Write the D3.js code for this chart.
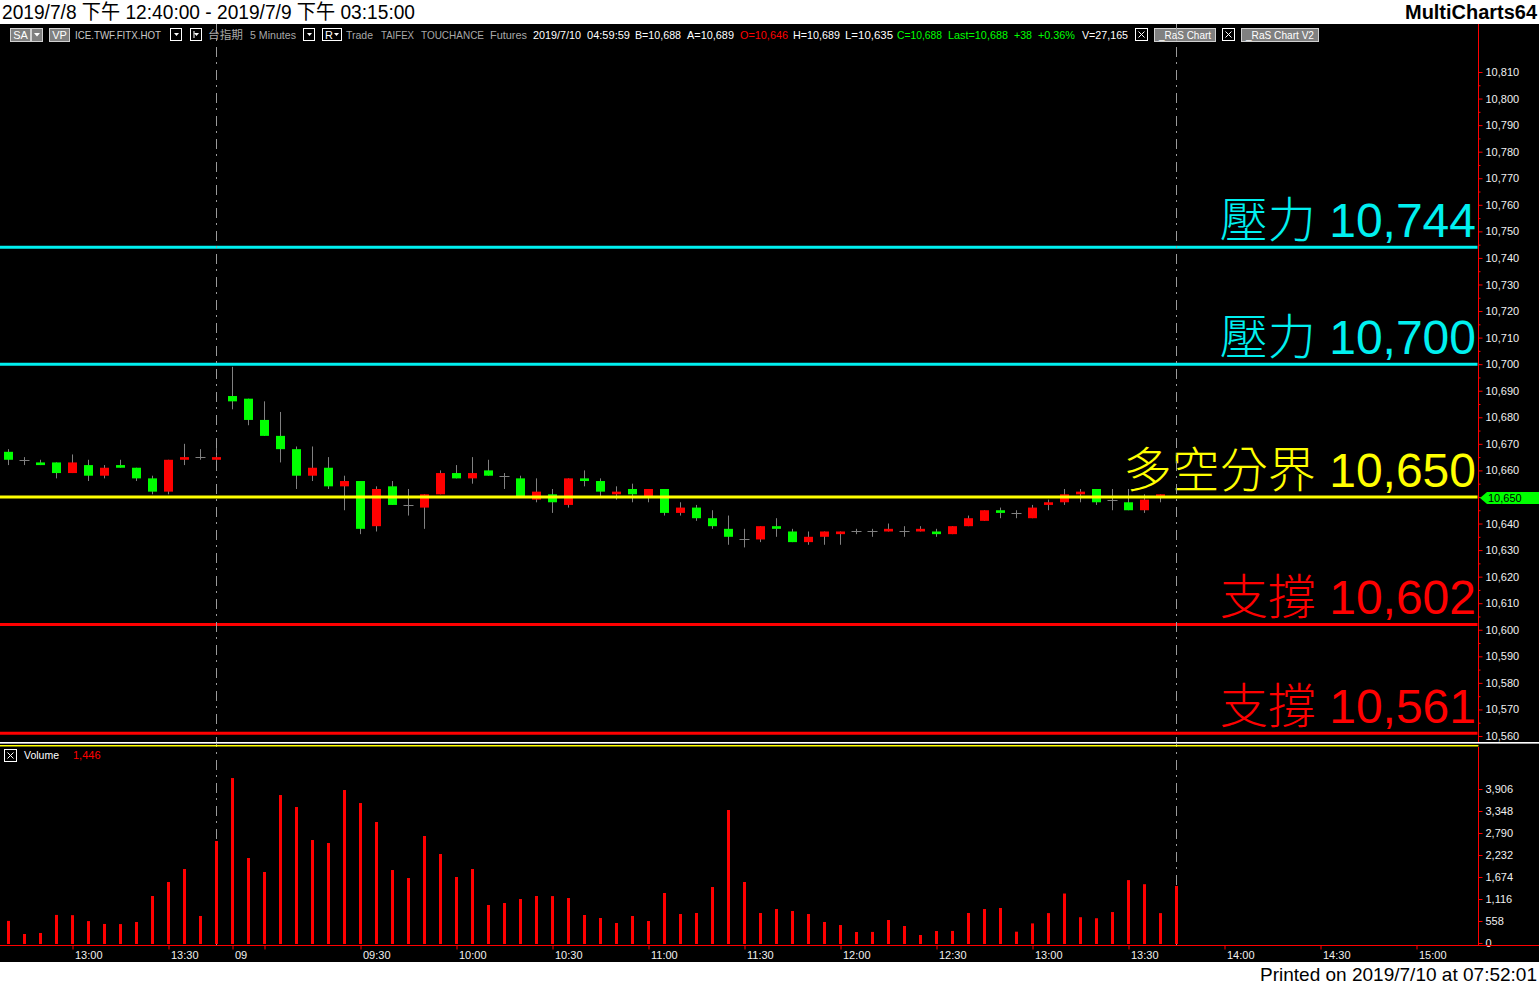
<!DOCTYPE html>
<html>
<head>
<meta charset="utf-8">
<script src="https://cdn.jsdelivr.net/npm/d3@7"></script>
<style>
  body { margin: 0; background: #fff; }
  svg { display: block; }
  text { font-family: "Liberation Sans", Arial, "Noto Sans CJK TC", sans-serif; }
</style>
</head>
<body>
<svg id="chart" width="1539" height="985"></svg>
<script>
// ---- sessions (5-minute slots, bar time = close time) ----
const sessionDates  = ["2019/7/8", "2019/7/9"];
const sessionStarts = ["12:40", "08:50"];
const sessionEnds   = ["13:45", "15:15"];

// ---- OHLC + volume of the 74 bars ----
const barOpen  = [10667,10664,10663,10663,10659,10662,10658,10662,10661,10657,10652,10664,10665,10664,
                  10688,10687,10679,10673,10668,10658,10661,10654,10656,10639,10654,10647,10646,10651,10659,10657,
                  10660,10658,10657,10649,10651,10647,10657,10656,10651,10653,10650,10653,10644,10646,10642,10638,
                  10634,10634,10639,10637,10633,10635,10636,10637,10637,10637,10637,10637,10637,10636,10639,10641,
                  10645,10644,10642,10647,10648,10651,10653,10649,10648,10645,10650,10650];
const barHigh  = [10668,10665,10664,10663,10666,10664,10662,10664,10661,10658,10664,10670,10668,10669,
                  10699,10687,10686,10682,10669,10669,10665,10658,10656,10654,10656,10653,10651,10660,10662,10665,
                  10664,10659,10658,10657,10653,10657,10660,10657,10654,10655,10653,10653,10648,10647,10645,10643,
                  10638,10639,10642,10638,10637,10637,10637,10638,10638,10640,10639,10639,10638,10639,10643,10645,
                  10646,10645,10647,10649,10653,10653,10653,10653,10653,10651,10651,10650];
const barLow   = [10662,10662,10662,10657,10659,10656,10657,10661,10656,10651,10651,10662,10664,10662,
                  10683,10677,10673,10663,10653,10656,10653,10645,10636,10637,10647,10643,10638,10651,10657,10655,
                  10658,10653,10650,10648,10644,10646,10654,10650,10649,10648,10648,10643,10643,10641,10638,10632,
                  10631,10633,10635,10633,10632,10632,10632,10636,10635,10637,10635,10637,10635,10636,10639,10641,
                  10642,10642,10642,10645,10647,10648,10647,10645,10645,10644,10648,10650];
const barClose = [10664,10664,10662,10659,10663,10658,10661,10661,10657,10652,10664,10665,10665,10665,
                  10686,10679,10673,10668,10658,10661,10654,10656,10638,10653,10647,10647,10651,10659,10657,10659,
                  10658,10658,10650,10652,10648,10657,10656,10652,10652,10651,10653,10644,10646,10642,10639,10635,
                  10634,10639,10638,10633,10635,10637,10637,10637,10637,10638,10637,10638,10636,10639,10642,10645,
                  10644,10644,10646,10648,10651,10652,10648,10649,10645,10649,10651,10650];
const barVolume = [561,228,254,712,706,556,483,480,533,1192,1547,1877,685,2587,
                   4184,2156,1801,3753,3449,2612,2536,3880,3550,3069,1851,1648,2714,2257,1674,1877,
                   964,1014,1116,1192,1190,1141,710,634,507,685,558,1268,735,761,
                   1420,3373,1547,761,862,811,735,533,456,279,281,583,431,203,
                   304,306,761,862,888,287,497,758,1255,654,628,785,1595,1491,758,1446];

// ---- support / resistance levels ----
const levelNames  = ["壓力", "壓力", "多空分界", "支撐", "支撐"];
const levelValues = [10744, 10700, 10650, 10602, 10561];

// ---- axis ticks ----
const priceTicks  = d3.range(10560, 10811, 10);
const volumeTicks = [0, 558, 1116, 1674, 2232, 2790, 3348, 3906];
const timeTickKeys = ["2019/7/8 13:00","2019/7/8 13:30","2019/7/9 08:50","2019/7/9 09:00","2019/7/9 09:30",
                      "2019/7/9 10:00","2019/7/9 10:30","2019/7/9 11:00","2019/7/9 11:30","2019/7/9 12:00",
                      "2019/7/9 12:30","2019/7/9 13:00","2019/7/9 13:30","2019/7/9 14:00","2019/7/9 14:30",
                      "2019/7/9 15:00"];
const timeTickLabels = ["13:00","13:30","09","","09:30","10:00","10:30","11:00","11:30","12:00","12:30",
                        "13:00","13:30","14:00","14:30","15:00"];

// build the slot list of both sessions
function toMin(t) { const [h, m] = t.split(":").map(Number); return h * 60 + m; }
function toHHMM(m) { return String(Math.floor(m / 60)).padStart(2, "0") + ":" + String(m % 60).padStart(2, "0"); }
const slots = [];
sessionDates.forEach((d, s) => {
  for (let m = toMin(sessionStarts[s]); m <= toMin(sessionEnds[s]); m += 5) slots.push(d + " " + toHHMM(m));
});
const bars = barOpen.map((o, i) => ({ i, o, h: barHigh[i], l: barLow[i], c: barClose[i], v: barVolume[i] }));

const W = 1539, H = 985;
const axisX = 1478.5;
const svg = d3.select("#chart");
const fmt = d3.format(",");

// scales
const x = d3.scaleLinear().domain([0, slots.length - 1]).range([8, 8 + 16 * (slots.length - 1)]);
const y = d3.scaleLinear().domain([10560, 10810]).range([736, 72]);
const yv = d3.scaleLinear().domain([0, 3906]).range([943, 789]);

// backgrounds
svg.append("rect").attr("width", W).attr("height", H).attr("fill", "#ffffff");
svg.append("rect").attr("x", 0).attr("y", 24).attr("width", W).attr("height", 938).attr("fill", "#000000");

// title row
svg.append("text").attr("x", 2).attr("y", 19).attr("font-size", 20).attr("fill", "#000")
  .attr("textLength", 413).attr("lengthAdjust", "spacingAndGlyphs")
  .text("2019/7/8 下午 12:40:00 - 2019/7/9 下午 03:15:00");
svg.append("text").attr("x", 1537).attr("y", 19).attr("font-size", 20).attr("font-weight", "bold")
  .attr("text-anchor", "end").attr("fill", "#000")
  .attr("textLength", 132).attr("lengthAdjust", "spacingAndGlyphs").text("MultiCharts64");

// toolbar
const tb = svg.append("g").attr("font-size", 11);
function tbText(xp, w, s, color) {
  tb.append("text").attr("x", xp).attr("y", 39).attr("fill", color)
    .attr("textLength", w).attr("lengthAdjust", "spacingAndGlyphs").text(s);
}
function grayBox(xp, w, s) {
  tb.append("rect").attr("x", xp + 0.5).attr("y", 28.5).attr("width", w).attr("height", 13)
    .attr("fill", "#808080").attr("stroke", "#d0d0d0");
  tb.append("text").attr("x", xp + w / 2 + 0.5).attr("y", 39).attr("text-anchor", "middle").attr("fill", "#fff").text(s);
}
function dropBox(xp, w, s) {
  tb.append("rect").attr("x", xp + 0.5).attr("y", 28.5).attr("width", w).attr("height", 12)
    .attr("fill", "#000").attr("stroke", "#ffffff");
  tb.append("path").attr("d", `M${xp + w - 7},33 h5 l-2.5,3 z`).attr("fill", "#fff");
  if (s) tb.append("text").attr("x", xp + 3).attr("y", 39).attr("fill", "#fff").text(s);
}
function xBox(xp) {
  tb.append("rect").attr("x", xp + 0.5).attr("y", 28.5).attr("width", 12).attr("height", 12)
    .attr("fill", "#000").attr("stroke", "#fff");
  tb.append("path").attr("d", `M${xp + 3.5},31.5 l6,6 M${xp + 9.5},31.5 l-6,6`).attr("stroke", "#fff");
}
grayBox(10, 20, "SA");
tb.append("rect").attr("x", 31.5).attr("y", 28.5).attr("width", 11).attr("height", 13).attr("fill", "#808080").attr("stroke", "#d0d0d0");
tb.append("path").attr("d", "M34,33 h6 l-3,3.5 z").attr("fill", "#fff");
grayBox(49, 20, "VP");
tbText(75, 86, "ICE.TWF.FITX.HOT", "#c8c8c8");
dropBox(170, 11);
dropBox(190, 11);
tb.append("line").attr("x1", 194).attr("x2", 194).attr("y1", 31).attr("y2", 38).attr("stroke", "#fff");
tbText(208, 35, "台指期", "#a8a8a8");
tbText(250, 46, "5 Minutes", "#a8a8a8");
dropBox(303, 11);
dropBox(322, 19, "R");
tbText(346, 27, "Trade", "#a8a8a8");
tbText(381, 33, "TAIFEX", "#a8a8a8");
tbText(421, 63, "TOUCHANCE", "#a8a8a8");
tbText(490, 37, "Futures", "#a8a8a8");
tbText(533, 48, "2019/7/10", "#ffffff");
tbText(587, 43, "04:59:59", "#ffffff");
tbText(635, 46, "B=10,688", "#ffffff");
tbText(687, 47, "A=10,689", "#ffffff");
tbText(740, 48, "O=10,646", "#ff0000");
tbText(793, 47, "H=10,689", "#ffffff");
tbText(845, 48, "L=10,635", "#ffffff");
tbText(897, 45, "C=10,688", "#00ff00");
tbText(948, 60, "Last=10,688", "#00ff00");
tbText(1014, 18, "+38", "#00ff00");
tbText(1038, 37, "+0.36%", "#00ff00");
tbText(1082, 46, "V=27,165", "#ffffff");
xBox(1135);
grayBox(1154, 61, "");
tbText(1159, 52, "_RaS Chart", "#ffffff");
xBox(1222);
grayBox(1241, 77, "");
tbText(1246, 68, "_RaS Chart V2", "#ffffff");

// ---- price pane ----
const pricePane = svg.append("g");

// candles
const candles = pricePane.append("g").selectAll("g").data(bars).join("g");
candles.append("line")
  .attr("x1", d => Math.round(x(d.i)) + 0.5).attr("x2", d => Math.round(x(d.i)) + 0.5)
  .attr("y1", d => y(d.h)).attr("y2", d => y(d.l))
  .attr("stroke", "#808080").attr("stroke-width", 1);
candles.filter(d => d.c !== d.o).append("rect")
  .attr("x", d => Math.round(x(d.i)) - 4).attr("width", 9)
  .attr("y", d => y(Math.max(d.o, d.c)))
  .attr("height", d => Math.max(1, Math.abs(y(d.o) - y(d.c))))
  .attr("fill", d => d.c > d.o ? "#ff0000" : "#00ff00");
candles.filter(d => d.c === d.o).append("line")
  .attr("x1", d => Math.round(x(d.i)) - 4.5).attr("x2", d => Math.round(x(d.i)) + 5.5)
  .attr("y1", d => Math.round(y(d.c)) + 0.5).attr("y2", d => Math.round(y(d.c)) + 0.5)
  .attr("stroke", "#808080").attr("stroke-width", 1);

// session / last-bar markers
const markerIdx = [13, bars.length - 1];
svg.append("g").selectAll("line").data(markerIdx).join("line")
  .attr("x1", d => Math.round(x(d)) + 0.5).attr("x2", d => Math.round(x(d)) + 0.5)
  .attr("y1", 24).attr("y2", 945)
  .attr("stroke", "#9a9a9a").attr("stroke-width", 1).attr("stroke-dasharray", "10,5,2,6");

// level lines and captions
const levelColors = ["#00f0f0", "#00f0f0", "#ffff00", "#ff0000", "#ff0000"];
const lv = pricePane.append("g").selectAll("g").data(levelValues).join("g");
lv.append("line").attr("x1", 0).attr("x2", axisX - 1)
  .attr("y1", d => y(d)).attr("y2", d => y(d))
  .attr("stroke", (d, i) => levelColors[i]).attr("stroke-width", 3);
const cap = lv.append("text").attr("x", 1476).attr("y", d => y(d) - 10)
  .attr("text-anchor", "end").attr("font-size", 48).attr("fill", (d, i) => levelColors[i]);
cap.append("tspan").attr("font-family", "'Noto Sans CJK TC', 'Noto Sans CJK SC', sans-serif")
  .attr("font-weight", 300).text((d, i) => levelNames[i]);
cap.append("tspan").attr("font-family", "'Liberation Sans', Arial, sans-serif").text(d => " " + fmt(d));

// price axis
svg.append("line").attr("x1", axisX).attr("x2", axisX).attr("y1", 24).attr("y2", 742).attr("stroke", "#ff0000");
const pAxis = svg.append("g").attr("transform", `translate(${axisX},0)`)
  .call(d3.axisRight(y).tickValues(priceTicks).tickFormat(fmt).tickSize(4).tickPadding(3).tickSizeOuter(0));
pAxis.select(".domain").remove();
pAxis.selectAll("line").attr("stroke", "#ff0000");
pAxis.selectAll("text").attr("fill", "#f0f0f0").attr("font-size", 11)
  .attr("font-family", "'Liberation Sans', Arial, sans-serif");
const pMinor = svg.append("g").attr("transform", `translate(${axisX},0)`)
  .call(d3.axisRight(y).tickValues(d3.range(10565, 10811, 10)).tickFormat("").tickSize(2).tickSizeOuter(0));
pMinor.select(".domain").remove();
pMinor.selectAll("line").attr("stroke", "#ff0000");

// current price marker
const lastY = y(levelValues[2]);
svg.append("path")
  .attr("d", `M1480,${lastY + 1} L1487,${lastY - 5} L1539,${lastY - 5} L1539,${lastY + 7} L1487,${lastY + 7} Z`)
  .attr("fill", "#00ff00");
svg.append("text").attr("x", 1488).attr("y", lastY + 5.5).attr("font-size", 11).attr("fill", "#000")
  .text(fmt(levelValues[2]));

// pane separator
svg.append("rect").attr("x", 0).attr("y", 742).attr("width", W).attr("height", 1).attr("fill", "#ffffff");
svg.append("rect").attr("x", 0).attr("y", 743).attr("width", W).attr("height", 1).attr("fill", "#a0a0a0");
svg.append("rect").attr("x", 0).attr("y", 745).attr("width", axisX).attr("height", 1.5).attr("fill", "#ffff00");

// ---- volume pane ----
svg.append("g").selectAll("rect").data(bars).join("rect")
  .attr("x", d => Math.round(x(d.i)) - 1).attr("width", 3)
  .attr("y", d => yv(d.v)).attr("height", d => 944 - yv(d.v))
  .attr("fill", "#ff0000");

svg.append("rect").attr("x", 4.5).attr("y", 749.5).attr("width", 12).attr("height", 12)
  .attr("fill", "#000").attr("stroke", "#fff");
svg.append("path").attr("d", "M7.5,752.5 l6,6 M13.5,752.5 l-6,6").attr("stroke", "#fff");
svg.append("text").attr("x", 24).attr("y", 759).attr("font-size", 11).attr("fill", "#fff")
  .attr("textLength", 35).attr("lengthAdjust", "spacingAndGlyphs").text("Volume");
svg.append("text").attr("x", 73).attr("y", 759).attr("font-size", 11).attr("fill", "#ff0000")
  .text(fmt(barVolume[barVolume.length - 1]));

svg.append("line").attr("x1", axisX).attr("x2", axisX).attr("y1", 747).attr("y2", 945).attr("stroke", "#ff0000");
const vAxis = svg.append("g").attr("transform", `translate(${axisX},0)`)
  .call(d3.axisRight(yv).tickValues(volumeTicks).tickFormat(fmt).tickSize(4).tickPadding(3).tickSizeOuter(0));
vAxis.select(".domain").remove();
vAxis.selectAll("line").attr("stroke", "#ff0000");
vAxis.selectAll("text").attr("fill", "#f0f0f0").attr("font-size", 11)
  .attr("font-family", "'Liberation Sans', Arial, sans-serif");

// ---- time axis ----
svg.append("line").attr("x1", 0).attr("x2", W).attr("y1", 945.5).attr("y2", 945.5).attr("stroke", "#ff0000");
const tickIdx = timeTickKeys.map(k => slots.indexOf(k));
const tAxis = svg.append("g").attr("transform", "translate(0.5,945.5)")
  .call(d3.axisBottom(x).tickValues(tickIdx).tickFormat((d, i) => timeTickLabels[i]).tickSize(4).tickPadding(2).tickSizeOuter(0));
tAxis.select(".domain").remove();
tAxis.selectAll("line").attr("stroke", "#ff0000");
tAxis.selectAll("text").attr("fill", "#f0f0f0").attr("font-size", 11)
  .attr("font-family", "'Liberation Sans', Arial, sans-serif")
  .attr("text-anchor", "start").attr("x", 2).attr("dy", "0.71em");

// footer
svg.append("text").attr("x", 1537).attr("y", 981).attr("font-size", 19).attr("fill", "#000")
  .attr("text-anchor", "end").attr("textLength", 277).attr("lengthAdjust", "spacingAndGlyphs")
  .text("Printed on 2019/7/10 at 07:52:01");
</script>
</body>
</html>
